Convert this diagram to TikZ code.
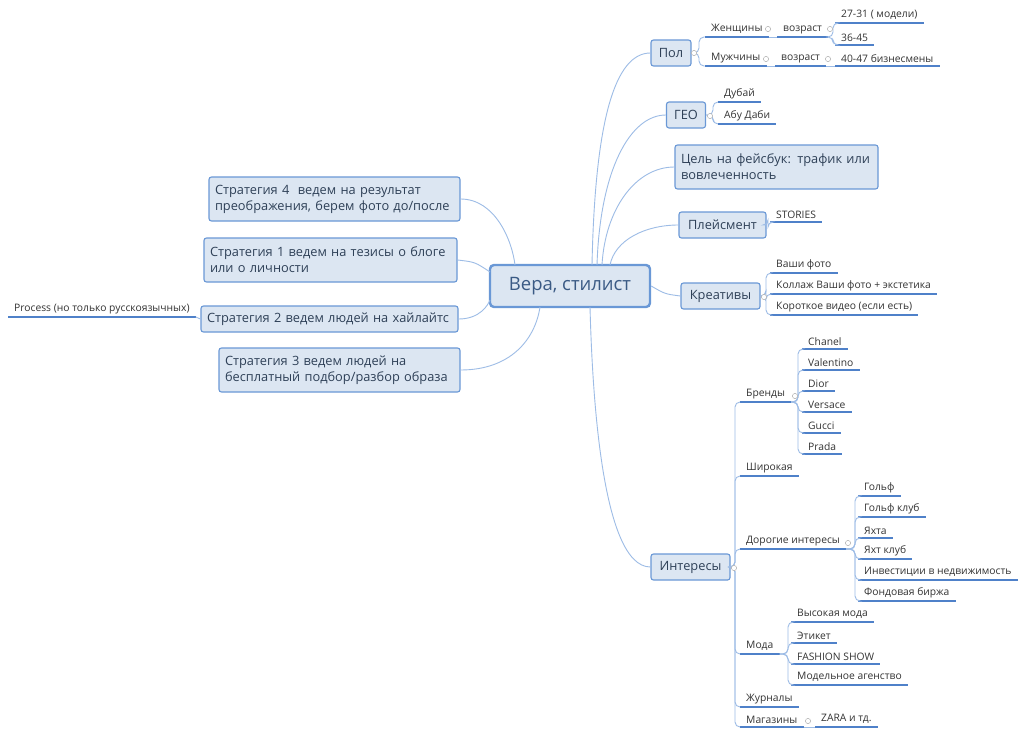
\documentclass[tikz,border=0pt]{standalone}
\usepackage{fontspec}
\setmainfont{Open Sans}
\usetikzlibrary{calc}
\definecolor{boxfill}{HTML}{DCE6F2}
\definecolor{bdr}{HTML}{6A98D6}
\definecolor{conn}{HTML}{9DBCE6}
\definecolor{ul}{HTML}{4F81C9}
\definecolor{txt}{HTML}{333333}
\definecolor{btxt}{HTML}{2E4057}
\definecolor{ctxt}{HTML}{3A5A85}
\begin{document}
\begin{tikzpicture}[x=1pt,y=-1pt,
  box/.style={draw=bdr,fill=boxfill,rounded corners=2.5,line width=1.1,font=\fontsize{12.8}{16}\selectfont,text=btxt,inner xsep=6,inner ysep=4,align=left},
  leaf/.style={anchor=south west,inner xsep=6,inner ysep=3,font=\fontsize{10.3}{12}\selectfont,text=txt,
    append after command={\pgfextra{\let\mainnode=\tikzlastnode}(\mainnode.south west) edge[ul] (\mainnode.south east)}},
  ul/.style={draw=ul,line width=1.1},
  cn/.style={draw=conn,line width=0.9},
  fk/.style={draw=conn,line width=0.9,rounded corners=5},
  mk/.style={draw=gray!60,fill=white,line width=0.5}]
\useasboundingbox (0,0) rectangle (1020,739);
\fill[white] (0,0) rectangle (1020,739);
\newcommand{\fork}[3]{\draw[fk] (#1) -| ($(#2.south west)+(-#3,0)$) -- (#2.south west);}
\newcommand{\mrk}[1]{\draw[mk] (#1) circle (2.6);}

% central
\node[box,line width=2.4,rounded corners=4,minimum width=160,minimum height=42,font=\fontsize{18.5}{22}\selectfont,text=ctxt,align=center] (c) at (570,286) {Вера, стилист};

% right main
\node[box,minimum width=40,minimum height=26,align=center] (pol) at (671,53) {Пол};
\node[box,minimum width=39,minimum height=26,align=center] (geo) at (686,115) {ГЕО};
\node[box,minimum width=203,minimum height=44,text width=191] (goal) at (776.5,167) {Цель на фейсбук: трафик или вовлеченность};
\node[box,minimum width=87,minimum height=26,align=center] (pl) at (722.5,225) {Плейсмент};
\node[box,minimum width=79,minimum height=26,align=center] (kr) at (720.5,296) {Креативы};
\node[box,minimum width=79,minimum height=26,align=center] (int) at (690.5,567) {Интересы};

% left main
\node[box,minimum width=251,minimum height=44,text width=239] (s4) at (334.5,199) {Стратегия 4 \ ведем на результат преображения, берем фото до/после};
\node[box,minimum width=253,minimum height=44,text width=241] (s1) at (330.5,260) {Стратегия 1 ведем на тезисы о блоге или о личности};
\node[box,minimum width=257,minimum height=26,text width=245] (s2) at (329.5,319) {Стратегия 2 ведем людей на хайлайтс};
\node[box,minimum width=241,minimum height=44,text width=229] (s3) at (339.5,370) {Стратегия 3 ведем людей на бесплатный подбор/разбор образа};

% central connectors
\draw[cn] (pol.west) .. controls (615,53) and (595,120) .. (592,265);
\draw[cn] (geo.west) .. controls (630,115) and (600,170) .. (597,265);
\draw[cn] (goal.west) .. controls (635,167) and (605,210) .. (602,265);
\draw[cn] (pl.west) .. controls (645,225) and (615,240) .. (610,265);
\draw[cn] (c.east) .. controls (665,294) .. (kr.west);
\draw[cn] (int.west) .. controls (600,567) and (592,380) .. (590,307);
\draw[cn] (s4.east) .. controls (495,199) and (512,240) .. (515,265);
\draw[cn] (s1.east) .. controls (475,262) .. (490,272);
\draw[cn] (s2.east) .. controls (480,319) and (488,305) .. (490,300);
\draw[cn] (s3.east) .. controls (510,370) and (535,340) .. (540,307);

% Process
\node[leaf] (pr) at (8,317) {Process (но только русскоязычных)};
\draw[cn] (pr.south east) -- (s2.west);

% Пол
\node[leaf] (w) at (705,37) {Женщины};
\node[leaf] (wa) at (777,37) {возраст};
\node[leaf] (w1) at (835,23) {27-31 ( модели)};
\node[leaf] (w2) at (835,45) {36-45};
\node[leaf] (m) at (705,66) {Мужчины};
\node[leaf] (ma) at (775,66) {возраст};
\node[leaf] (m1) at (835,66) {40-47 бизнесмены};
\fork{pol.east}{w}{6}\fork{pol.east}{m}{6}
\draw[cn] (w.south east) -- (wa.south west);
\draw[cn] (m.south east) -- (ma.south west);
\draw[cn] (ma.south east) -- (m1.south west);
\fork{wa.south east}{w1}{2}\fork{wa.south east}{w2}{2}
\mrk{694,53}\mrk{768,29}\mrk{830,29}\mrk{766,59}\mrk{828,59}

% ГЕО
\node[leaf] (g1) at (718,102) {Дубай};
\node[leaf] (g2) at (718,124) {Абу Даби};
\fork{geo.east}{g1}{5}\fork{geo.east}{g2}{5}
\mrk{710,116}

% Плейсмент
\node[leaf] (st) at (770,222) {STORIES};
\fork{pl.east}{st}{2}

% Креативы
\node[leaf] (k1) at (770,273) {Ваши фото};
\node[leaf] (k2) at (770,294) {Коллаж Ваши фото + экстетика};
\node[leaf] (k3) at (770,315) {Короткое видео (если есть)};
\fork{kr.east}{k1}{4}\fork{kr.east}{k2}{4}\fork{kr.east}{k3}{4}
\mrk{764,297}

% Интересы
\node[leaf] (br) at (740,402) {Бренды};
\node[leaf] (sh) at (740,476) {Широкая};
\node[leaf] (di) at (740,549) {Дорогие интересы};
\node[leaf] (mo) at (740,654) {Мода};
\node[leaf] (zh) at (740,707) {Журналы};
\node[leaf] (ma2) at (740,727) {Магазины};
\foreach \n in {br,sh,di,mo,zh,ma2}{\fork{int.east}{\n}{5}}
\mrk{734,568}

\node[leaf] (b1) at (802,349) {Chanel};
\node[leaf] (b2) at (802,370) {Valentino};
\node[leaf] (b3) at (802,391) {Dior};
\node[leaf] (b4) at (802,412) {Versace};
\node[leaf] (b5) at (802,433) {Gucci};
\node[leaf] (b6) at (802,454) {Prada};
\foreach \n in {b1,b2,b3,b4,b5,b6}{\fork{br.south east}{\n}{4}}
\mrk{795,396}

\node[leaf] (d1) at (858,496) {Гольф};
\node[leaf] (d2) at (858,517) {Гольф клуб};
\node[leaf] (d3) at (858,538) {Яхта};
\node[leaf] (d4) at (858,559) {Яхт клуб};
\node[leaf] (d5) at (858,580) {Инвестиции в недвижимость};
\node[leaf] (d6) at (858,601) {Фондовая биржа};
\foreach \n in {d1,d2,d3,d4,d5,d6}{\fork{di.south east}{\n}{3}}
\mrk{848,543}

\node[leaf] (o1) at (791,622) {Высокая мода};
\node[leaf] (o2) at (791,643) {Этикет};
\node[leaf] (o3) at (791,664) {FASHION SHOW};
\node[leaf] (o4) at (791,685) {Модельное агенство};
\foreach \n in {o1,o2,o3,o4}{\fork{mo.south east}{\n}{3}}

\node[leaf] (z) at (815,727) {ZARA и тд.};
\draw[cn] (ma2.south east) -- (z.south west);
\mrk{808,721}
\end{tikzpicture}
\end{document}
